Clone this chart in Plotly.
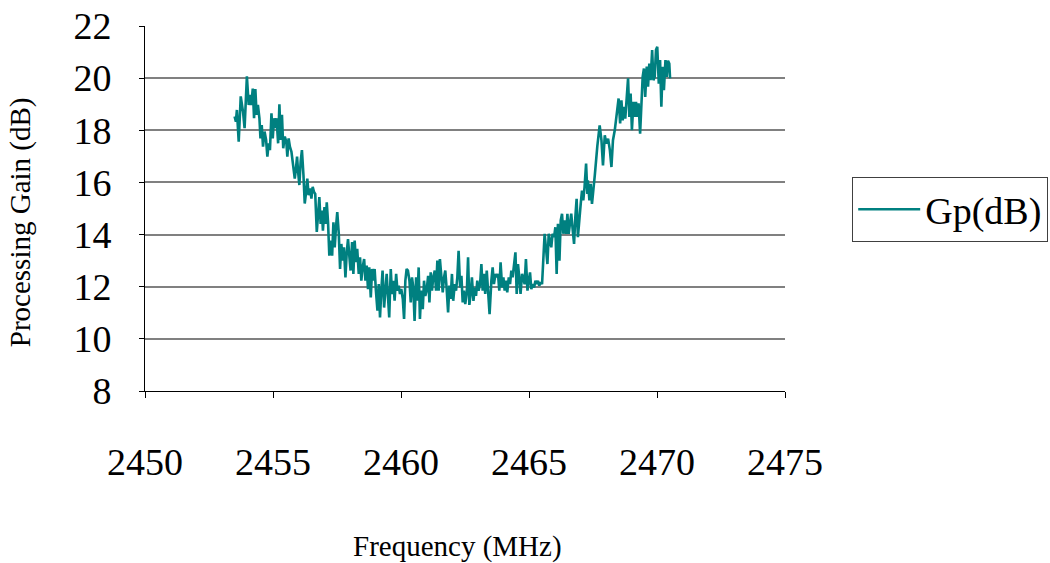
import plotly.graph_objects as go

freq_mhz = [
    2453.50, 2453.55, 2453.59, 2453.66, 2453.74, 2453.83, 2453.89, 2453.98, 2454.05, 2454.10,
    2454.15, 2454.21, 2454.26, 2454.31, 2454.36, 2454.41, 2454.47, 2454.51, 2454.56, 2454.61,
    2454.67, 2454.73, 2454.78, 2454.83, 2454.88, 2454.94, 2454.99, 2455.04, 2455.09, 2455.14,
    2455.20, 2455.25, 2455.30, 2455.35, 2455.40, 2455.46, 2455.52, 2455.56, 2455.61, 2455.66,
    2455.72, 2455.78, 2455.85, 2455.90, 2455.94, 2455.98, 2456.03, 2456.08, 2456.13, 2456.19,
    2456.24, 2456.29, 2456.34, 2456.39, 2456.45, 2456.50, 2456.55, 2456.60, 2456.65, 2456.71,
    2456.76, 2456.81, 2456.86, 2456.91, 2456.95, 2457.01, 2457.06, 2457.10, 2457.15, 2457.20,
    2457.25, 2457.31, 2457.36, 2457.41, 2457.46, 2457.51, 2457.57, 2457.62, 2457.67, 2457.72,
    2457.77, 2457.83, 2457.88, 2457.93, 2457.98, 2458.03, 2458.09, 2458.14, 2458.19, 2458.24,
    2458.29, 2458.35, 2458.40, 2458.45, 2458.50, 2458.56, 2458.61, 2458.66, 2458.71, 2458.76,
    2458.82, 2458.87, 2458.92, 2458.97, 2459.02, 2459.08, 2459.13, 2459.18, 2459.23, 2459.28,
    2459.34, 2459.39, 2459.44, 2459.49, 2459.54, 2459.60, 2459.65, 2459.70, 2459.75, 2459.81,
    2459.86, 2459.91, 2459.96, 2460.01, 2460.07, 2460.12, 2460.17, 2460.22,
    2460.27, 2460.33, 2460.38, 2460.43, 2460.48, 2460.53, 2460.59, 2460.64, 2460.69, 2460.74,
    2460.79, 2460.85, 2460.90, 2460.95, 2461.00, 2461.06, 2461.11, 2461.16, 2461.21, 2461.26,
    2461.32, 2461.37, 2461.42, 2461.47, 2461.52, 2461.58, 2461.63, 2461.68, 2461.73, 2461.78,
    2461.84, 2461.89, 2461.94, 2461.99, 2462.04, 2462.10, 2462.15, 2462.20, 2462.25, 2462.31,
    2462.36, 2462.41, 2462.46, 2462.51, 2462.57, 2462.62, 2462.67, 2462.72, 2462.77, 2462.83,
    2462.88, 2462.93, 2462.98, 2463.03, 2463.09, 2463.14, 2463.19, 2463.24, 2463.29, 2463.35,
    2463.40, 2463.46, 2463.53, 2463.58, 2463.63, 2463.69, 2463.74,
    2463.79, 2463.84, 2463.89, 2463.95, 2464.00, 2464.05, 2464.10, 2464.15, 2464.21, 2464.26,
    2464.31, 2464.36, 2464.41, 2464.47, 2464.52, 2464.57, 2464.62, 2464.67, 2464.73, 2464.78,
    2464.83, 2464.88, 2464.94, 2464.99, 2465.04, 2465.09, 2465.14, 2465.20, 2465.25, 2465.30,
    2465.35, 2465.40, 2465.46, 2465.51, 2465.56, 2465.61, 2465.66, 2465.72, 2465.77, 2465.82,
    2465.87, 2465.92, 2465.98, 2466.03, 2466.08, 2466.13, 2466.19, 2466.24, 2466.29, 2466.34,
    2466.39, 2466.45, 2466.50, 2466.55, 2466.60, 2466.65, 2466.71, 2466.76, 2466.81, 2466.86,
    2466.91, 2466.97, 2467.02, 2467.07, 2467.12, 2467.17, 2467.23, 2467.28,
    2467.30, 2467.36, 2467.41, 2467.46, 2467.51, 2467.57, 2467.67, 2467.76, 2467.83, 2467.89,
    2467.96, 2468.02, 2468.09, 2468.16, 2468.22, 2468.28, 2468.35, 2468.41, 2468.45, 2468.50,
    2468.56, 2468.61, 2468.66, 2468.71, 2468.76, 2468.82, 2468.87, 2468.92, 2468.97, 2469.02,
    2469.08, 2469.13, 2469.18, 2469.23, 2469.28, 2469.34, 2469.39, 2469.44, 2469.49, 2469.54,
    2469.60, 2469.65, 2469.70, 2469.75, 2469.81, 2469.86, 2469.91, 2469.96, 2470.01, 2470.07,
    2470.12, 2470.17, 2470.22, 2470.27, 2470.33, 2470.38, 2470.43, 2470.48, 2470.51,
]

gp_db = [
    18.53, 18.33, 18.78, 17.56, 19.30, 18.70, 18.08, 20.07, 18.97, 19.36,
    18.97, 19.60, 18.46, 19.58, 18.59, 18.97, 18.46, 17.69, 18.20, 17.37,
    17.95, 17.63, 16.99, 17.50, 17.24, 18.65, 17.69, 18.46, 18.08, 18.46,
    17.50, 19.00, 17.63, 18.59, 17.31, 17.76, 17.56, 16.99, 17.69, 17.37,
    17.18, 16.67, 16.15, 16.56, 16.99, 16.41, 15.90, 16.80, 17.24, 16.28,
    15.19, 15.60, 16.15, 15.51, 15.77, 15.38, 15.83, 15.64, 15.56, 14.10,
    14.67, 15.44, 14.41, 14.92, 14.15, 15.05, 14.41, 15.24, 14.47, 13.19,
    13.77, 13.19, 14.47, 13.51, 14.28, 14.86, 14.03, 12.68, 13.64, 13.00,
    13.51, 12.36, 13.32, 13.83, 13.19, 12.62, 13.71, 12.49, 13.77, 12.94,
    13.45, 12.49, 13.13, 12.23, 12.74, 13.06, 12.23, 12.81, 11.91, 12.74,
    11.59, 12.68, 12.23, 12.68, 11.85, 11.08, 12.10, 10.82, 11.85, 12.62,
    11.20, 11.85, 12.49, 11.65, 10.82, 12.68, 11.72, 12.23, 11.46, 12.49,
    11.85, 12.04, 11.72, 11.91, 11.53, 10.76, 12.23, 12.68,
    12.62, 12.23, 11.40, 12.36, 11.97, 10.69, 12.36, 11.46, 12.74, 10.76,
    11.85, 11.14, 12.23, 11.65, 11.85, 12.42, 11.40, 12.55, 11.85, 12.36,
    12.62, 11.85, 13.00, 11.85, 13.06, 12.36, 11.78, 12.36, 12.62, 11.97,
    11.01, 12.04, 11.53, 12.49, 11.46, 12.10, 11.85, 12.36, 13.38, 11.97,
    12.42, 11.40, 11.85, 11.33, 11.78, 13.13, 11.30, 11.72, 12.36, 11.46,
    11.97, 11.65, 12.23, 11.85, 12.10, 12.87, 11.85, 12.49, 11.72, 12.62,
    11.97, 10.95, 12.23, 12.74, 12.10, 12.49, 12.36,
    12.49, 11.85, 12.94, 11.97, 12.36, 11.85, 12.23, 11.78, 12.36, 12.10,
    12.62, 12.36, 12.87, 13.32, 11.72, 12.87, 12.36, 11.72, 12.49, 12.23,
    12.10, 13.06, 11.85, 12.23, 12.55, 11.91, 12.10, 11.97, 12.23, 12.10,
    12.23, 12.04, 12.17, 12.10, 13.00, 14.03, 13.51, 12.87, 14.03, 13.77,
    13.51, 14.03, 13.90, 14.28, 12.49, 14.41, 13.00, 14.54, 14.80, 14.03,
    14.54, 14.03, 14.80, 14.03, 14.54, 14.80, 14.15, 13.64, 14.67, 15.37,
    13.90, 14.80, 15.18, 15.69, 15.31, 15.82, 16.72, 15.56,
    16.08, 15.31, 15.95, 15.18, 15.82, 16.27, 17.40, 18.19, 17.62, 16.65,
    17.81, 17.49, 17.68, 17.23, 16.59, 17.62, 18.00, 18.45, 18.77, 19.22,
    18.26, 19.15, 18.38, 18.90, 18.45, 19.15, 19.99, 18.51, 19.41, 18.00,
    19.09, 18.51, 19.09, 18.51, 19.03, 17.87, 19.28, 20.05, 20.37, 19.28,
    20.44, 19.67, 20.56, 19.92, 21.08, 19.92, 20.05, 21.08, 21.20, 19.79,
    20.69, 18.90, 20.44, 19.54, 20.69, 20.05, 20.67, 20.56, 19.99,
]

series_name = "Gp(dB)"
x_title = "Frequency (MHz)"
y_title = "Processing Gain (dB)"
x_ticks = [2450, 2455, 2460, 2465, 2470, 2475]
y_ticks = [8, 10, 12, 14, 16, 18, 20, 22]

FONT = "Liberation Serif, Times New Roman, serif"

fig = go.Figure()
fig.add_trace(go.Scatter(
    x=freq_mhz, y=gp_db, mode="lines", name=series_name,
    line=dict(color="#008080", width=2.6),
))

fig.update_layout(
    width=1050, height=563,
    margin=dict(l=145, r=265, t=26, b=172, autoexpand=False),
    paper_bgcolor="white", plot_bgcolor="white",
    font=dict(family=FONT, color="black", size=37),
    showlegend=True,
    legend=dict(
        x=1.105, y=0.586, xanchor="left", yanchor="top",
        bordercolor="#404040", borderwidth=1,
        font=dict(family=FONT, size=38, color="black"),
        bgcolor="white", itemwidth=62,
    ),
    xaxis=dict(
        range=[2450, 2475], tickvals=x_ticks, ticktext=[str(v) for v in x_ticks],
        showgrid=False, zeroline=False,
        showline=True, linecolor="black", linewidth=1,
        ticks="outside", ticklen=6, tickcolor="black",
        ticklabelstandoff=31,
        tickfont=dict(family=FONT, size=38),
    ),
    yaxis=dict(
        range=[8, 22], tickvals=y_ticks, ticktext=[str(v) for v in y_ticks],
        showgrid=True, gridcolor="#808080", gridwidth=1.5, zeroline=False,
        showline=True, linecolor="black", linewidth=1,
        ticks="outside", ticklen=5, tickcolor="black",
        ticklabelstandoff=20,
        tickfont=dict(family=FONT, size=38),
    ),
    annotations=[
        dict(text=y_title, xref="paper", yref="paper", x=-0.195, y=0.463,
             textangle=-90, showarrow=False, xanchor="center", yanchor="middle",
             font=dict(family=FONT, size=29, color="black")),
        dict(text=x_title, xref="paper", yref="paper", x=0.4875, y=-0.425,
             showarrow=False, xanchor="center", yanchor="middle",
             font=dict(family=FONT, size=29, color="black")),
    ],
)

fig.write_html("out.html")
